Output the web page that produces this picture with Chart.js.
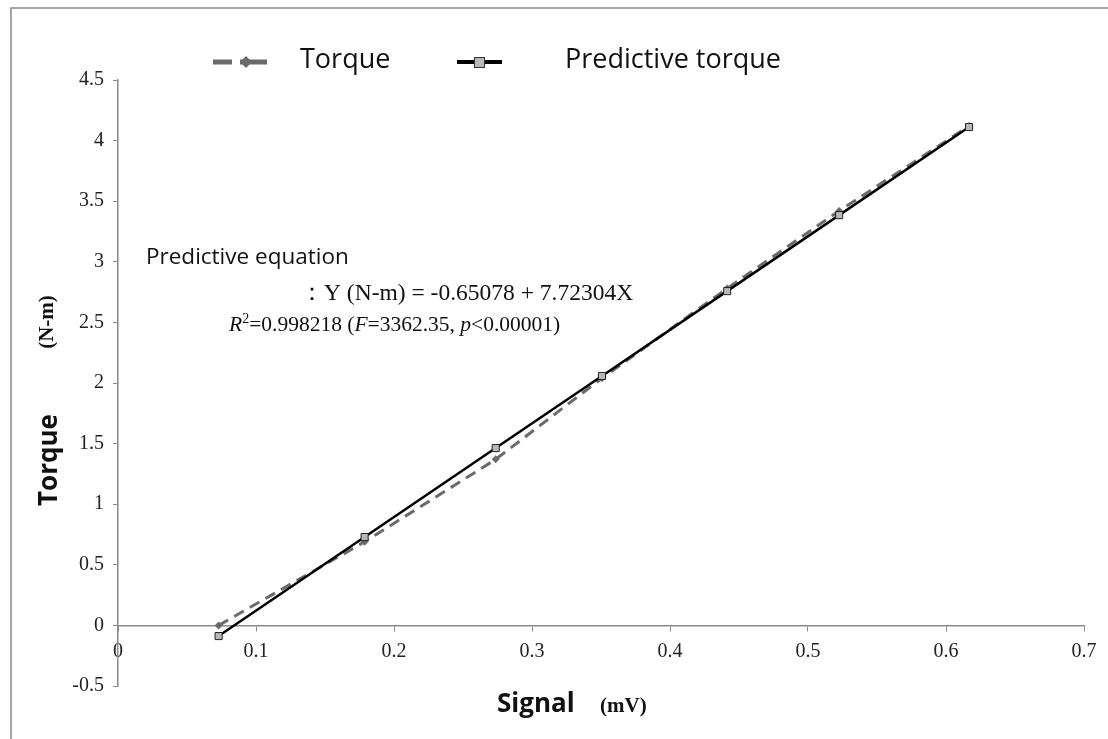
<!DOCTYPE html>
<html>
<head>
  <title>Torque vs Signal</title>
  <script src="https://cdn.jsdelivr.net/npm/chart.js"></script>
  <style>
    body { margin: 0; background: #fff; }
    #wrap { width: 1108px; height: 739px; }
  </style>
</head>
<body>
<div id="wrap"><canvas id="myChart" width="1108" height="739"></canvas></div>

<script>
// values
const signal = [0.0729, 0.1787, 0.2737, 0.3507, 0.4414, 0.5226, 0.6167];
const torque = [0.0, 0.69, 1.37, 2.04, 2.78, 3.42, 4.12];
const predictedTorque = [-0.088, 0.729, 1.463, 2.058, 2.758, 3.385, 4.112];

const seriesNames = ['Torque', 'Predictive torque'];
const xTitle = ['Signal', '(mV)'];
const yTitle = ['Torque', '(N-m)'];

const serif = '"Liberation Serif", "Times New Roman", serif';
const sans = '"Open Sans", sans-serif';

function toPoints(xs, ys) {
  return xs.map((x, i) => ({ x: x, y: ys[i] }));
}

// plain number labels: 4 not 4.0
function tickLabel(v) {
  return String(+v.toFixed(2));
}

// draws a run of text pieces, each with its own font
function drawRuns(ctx, x, y, runs) {
  runs.forEach(r => {
    ctx.font = r.font;
    ctx.fillText(r.text, x, y + (r.dy || 0));
    x += ctx.measureText(r.text).width;
  });
}

const decor = {
  id: 'decor',
  beforeDraw(chart) {
    const ctx = chart.ctx;
    ctx.save();
    ctx.fillStyle = '#fff';
    ctx.fillRect(0, 0, chart.width, chart.height);
    ctx.strokeStyle = '#8a8a8a';
    ctx.lineWidth = 1.5;
    ctx.strokeRect(11, 8, 1200, 900);
    ctx.restore();
  },
  afterDraw(chart) {
    const ctx = chart.ctx;
    ctx.save();
    ctx.textBaseline = 'middle';

    // legend
    ctx.strokeStyle = '#6b6b6b';
    ctx.lineWidth = 5;
    ctx.beginPath();
    ctx.moveTo(213, 62); ctx.lineTo(232, 62);
    ctx.moveTo(240, 62); ctx.lineTo(267, 62);
    ctx.stroke();
    ctx.fillStyle = '#6b6b6b';
    ctx.beginPath();
    ctx.moveTo(246, 56); ctx.lineTo(252, 62); ctx.lineTo(246, 68); ctx.lineTo(240, 62);
    ctx.closePath(); ctx.fill();

    ctx.strokeStyle = '#000';
    ctx.lineWidth = 4;
    ctx.beginPath();
    ctx.moveTo(457, 62); ctx.lineTo(502, 62);
    ctx.stroke();
    ctx.fillStyle = '#b8b8b8';
    ctx.fillRect(474, 57, 10, 10);
    ctx.strokeStyle = '#333';
    ctx.lineWidth = 1;
    ctx.strokeRect(474.5, 57.5, 10, 10);

    ctx.fillStyle = '#111';
    ctx.font = '27px ' + sans;
    ctx.fillText(seriesNames[0], 300, 60);
    ctx.fillText(seriesNames[1], 565, 60);

    // axis titles
    ctx.font = 'bold 26px ' + sans;
    ctx.fillText(xTitle[0], 497, 705);
    ctx.font = 'bold 21px ' + serif;
    ctx.fillText(xTitle[1], 600, 707);

    ctx.save();
    ctx.translate(50, 460);
    ctx.rotate(-Math.PI / 2);
    ctx.textAlign = 'center';
    ctx.font = 'bold 26px ' + sans;
    ctx.fillText(yTitle[0], 0, 0);
    ctx.restore();
    ctx.save();
    ctx.translate(48, 322);
    ctx.rotate(-Math.PI / 2);
    ctx.textAlign = 'center';
    ctx.font = 'bold 21px ' + serif;
    ctx.fillText(yTitle[1], 0, 0);
    ctx.restore();

    // regression note
    ctx.font = '22.5px ' + sans;
    ctx.fillText('Predictive equation', 146, 258);
    ctx.font = '23.5px ' + serif;
    ctx.fillText('\uFF1AY (N-m) = -0.65078 + 7.72304X', 300, 294);
    const n = '21.5px ' + serif, it = 'italic 21.5px ' + serif;
    drawRuns(ctx, 229, 325, [
      { text: 'R', font: it },
      { text: '2', font: '14px ' + serif, dy: -6 },
      { text: '=0.998218 (', font: n },
      { text: 'F', font: it },
      { text: '=3362.35, ', font: n },
      { text: 'p', font: it },
      { text: '<0.00001)', font: n }
    ]);
    ctx.restore();
  }
};

new Chart('myChart', {
  type: 'scatter',
  data: {
    datasets: [{
      label: seriesNames[0],
      data: toPoints(signal, torque),
      showLine: true,
      borderColor: '#6b6b6b',
      borderWidth: 3,
      borderDash: [11, 7],
      pointStyle: 'rectRot',
      pointRadius: 4,
      backgroundColor: '#6b6b6b',
      pointBorderWidth: 0,
      order: 2
    }, {
      label: seriesNames[1],
      data: toPoints(signal, predictedTorque),
      showLine: true,
      borderColor: '#000',
      borderWidth: 2.5,
      pointStyle: 'rect',
      pointRadius: 5,
      backgroundColor: '#b8b8b8',
      pointBorderColor: '#222',
      pointBorderWidth: 1,
      order: 1
    }]
  },
  plugins: [decor],
  options: {
    responsive: false,
    animation: false,
    layout: { padding: { left: 0, top: 80, right: 24, bottom: 53 } },
    plugins: {
      legend: { display: false },
      tooltip: { enabled: false }
    },
    scales: {
      x: {
        type: 'linear',
        position: { y: 0 },
        min: 0,
        max: 0.7,
        ticks: {
          stepSize: 0.1,
          padding: 9,
          color: '#222',
          font: { family: serif, size: 20 },
          callback: tickLabel
        },
        grid: { drawOnChartArea: false, tickLength: 5, color: '#8a8a8a' },
        border: { color: '#8a8a8a', width: 1.5 }
      },
      y: {
        type: 'linear',
        position: 'left',
        min: -0.5,
        max: 4.5,
        afterFit: s => { s.width = 118; },
        ticks: {
          stepSize: 0.5,
          padding: 9,
          color: '#222',
          font: { family: serif, size: 20 },
          callback: tickLabel
        },
        grid: { drawOnChartArea: false, tickLength: 5, color: '#8a8a8a' },
        border: { color: '#8a8a8a', width: 1.5 }
      }
    }
  }
});
</script>
</body>
</html>
